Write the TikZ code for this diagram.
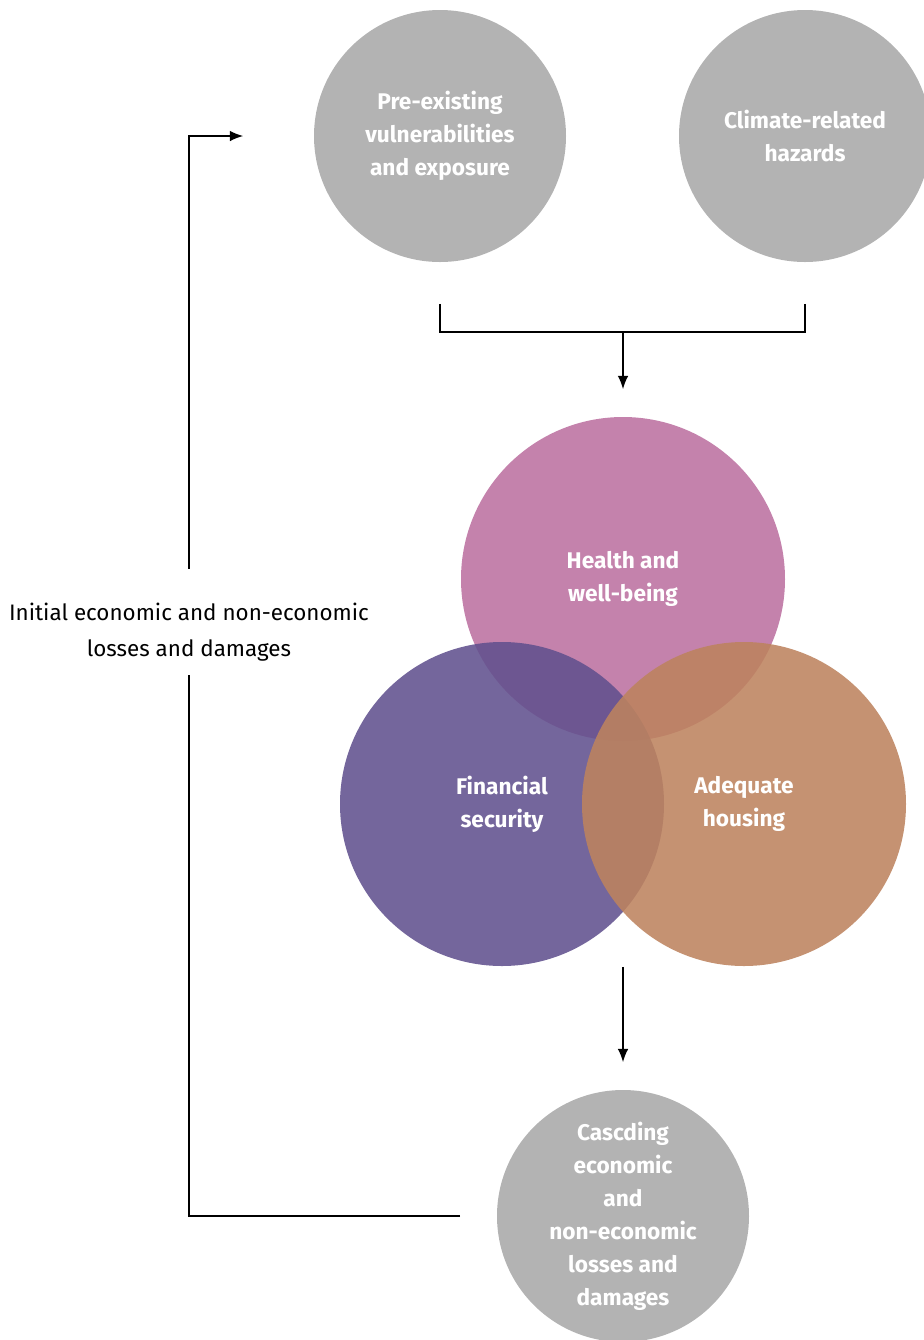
\documentclass[tikz,border=0pt]{standalone}
\usepackage{fontspec}
\setmainfont{Fira Sans}
\usetikzlibrary{positioning, calc, arrows.meta}

\definecolor{bubblegray}{RGB}{179,179,179}
\definecolor{healthpink}{RGB}{196,130,172}
\definecolor{financepurple}{RGB}{97,81,142}
\definecolor{housingtan}{RGB}{189,131,94}

\begin{document}
\begin{tikzpicture}[x=0.75pt,y=-0.75pt,on grid,line width=1.2pt,
    flow/.style={-{Latex[length=10pt,width=8pt]}},
    bubble/.style={circle, fill=bubblegray, draw=none, minimum size=189pt,
        text=white, align=center, font=\fontsize{17}{24.75}\selectfont\bfseries},
    venn/.style={circle, draw=none, minimum size=243pt, fill opacity=0.88,
        text opacity=1, text=white, align=center,
        font=\fontsize{17}{24.75}\selectfont\bfseries}]

    \useasboundingbox (0,0) rectangle (924,1340);
    \clip (0,0) rectangle (924,1340);

    \node[bubble] (pre) at (440,136) {Pre-existing\\vulnerabilities\\and exposure};
    \node[bubble] (hazards) [right=273.75pt of pre] {Climate-related\\hazards};

    \node[venn, fill=healthpink, fill opacity=1] (health) [below right=332.25pt and 137.25pt of pre] {Health and\\well-being};
    \node[venn, fill=financepurple] (finance) [below left=168.75pt and 90.75pt of health] {Financial\\security};
    \node[venn, fill=housingtan] (housing) [right=181.5pt of finance] {Adequate\\housing};

    \node[bubble] (cascade) [below=477.75pt of health] {Cascding\\economic\\and\\non-economic\\losses and\\damages};

    \node[align=center, minimum height=78.75pt, font=\fontsize{16.8}{27}\selectfont] (losses)
        [below left=372pt and 188.25pt of pre] {Initial economic and non-economic\\losses and damages};

    % hazards and vulnerabilities join
    \coordinate (join) at (health.north |- 0,332);
    \draw[shorten <=30.75pt] (pre.south) |- (join);
    \draw[shorten <=30.75pt] (hazards.south) |- (join);
    \draw[flow, shorten >=20.25pt] (join) -- (health.north);

    % impacts cascade
    \draw[flow, shorten >=20.25pt] (health.north |- finance.south) -- (cascade.north);

    % feedback loop
    \draw[shorten <=27pt] (cascade.west) -| ([yshift=7.5pt]losses.south);
    \draw[flow, shorten >=52.5pt] ([yshift=7.5pt]losses.north) |- (pre.west);

\end{tikzpicture}
\end{document}
